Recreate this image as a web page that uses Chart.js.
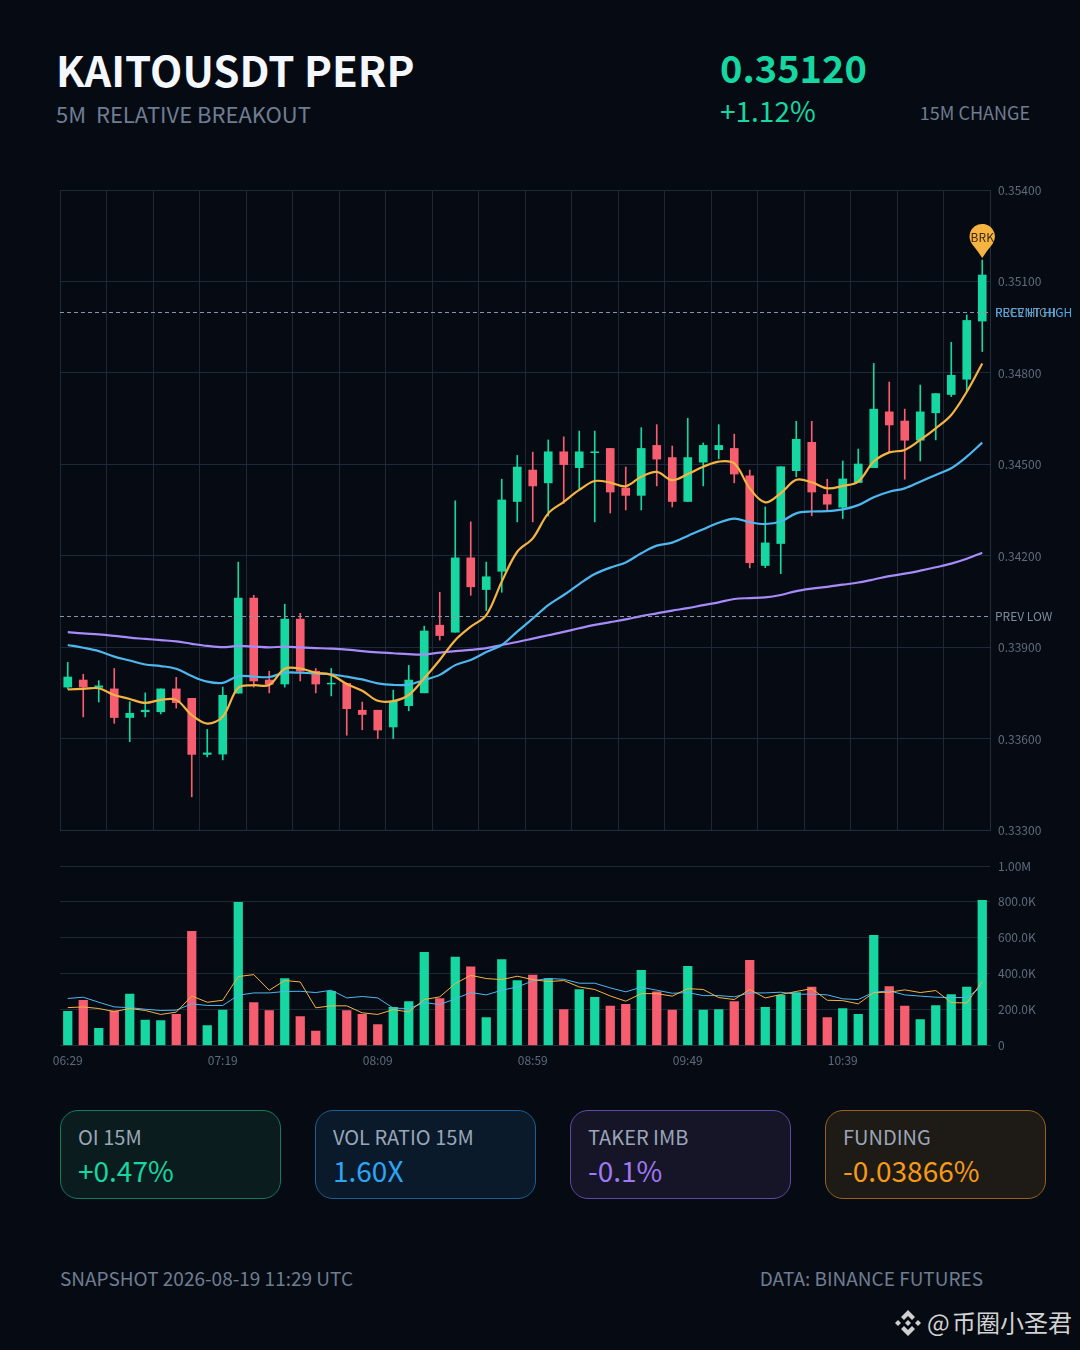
<!DOCTYPE html>
<html>
<head>
<meta charset="utf-8">
<title>KAITOUSDT PERP</title>
<script src="https://cdn.jsdelivr.net/npm/chart.js@4/dist/chart.umd.min.js"></script>
<style>
    * { box-sizing: border-box; }
    html, body { margin: 0; padding: 0; background: #060b13; }
    body { position: relative; width: 1080px; height: 1350px; overflow: hidden;
           font-family: "Noto Sans CJK SC", "Noto Sans", sans-serif; }
    canvas { position: absolute; left: 0; }
    .txt { position: absolute; white-space: pre; line-height: 1; }
    .card { position: absolute; top: 1110px; width: 221px; height: 89px; border-radius: 18px; border: 1px solid; }
    .card .lbl { position: absolute; left: 17px; top: 16px; font-size: 20px; line-height: 1; color: #9aa6b8; white-space: pre; }
    .card .val { position: absolute; left: 17px; top: 45px; font-size: 28px; line-height: 1; white-space: pre; }
</style>
</head>
<body>

<div class="txt" style="left:56px;top:47.5px;font-size:42px;font-weight:700;color:#f4f7fb">KAITOUSDT PERP</div>
<div class="txt" style="left:56px;top:102px;font-size:22px;color:#6f7d92">5M  RELATIVE BREAKOUT</div>
<div class="txt" style="left:720px;top:48px;font-size:38px;font-weight:700;color:#16d6a1">0.35120</div>
<div class="txt" style="left:720px;top:96px;font-size:28px;color:#16d6a1">+1.12%</div>
<div class="txt" style="right:50px;top:103px;font-size:18px;color:#6f7d92">15M CHANGE</div>

<canvas id="price-chart" width="1080" height="680" style="top:170px"></canvas>
<canvas id="volume-chart" width="1080" height="234" style="top:846px"></canvas>

<div class="card" style="left:60px;background:#0b1c1e;border-color:#147a5e">
    <div class="lbl">OI 15M</div><div class="val" style="color:#16d6a1">+0.47%</div>
</div>
<div class="card" style="left:315px;background:#0a1a2a;border-color:#1c5f92">
    <div class="lbl">VOL RATIO 15M</div><div class="val" style="color:#2ba6f5">1.60X</div>
</div>
<div class="card" style="left:570px;background:#151527;border-color:#5f4aa0">
    <div class="lbl">TAKER IMB</div><div class="val" style="color:#a078f5">-0.1%</div>
</div>
<div class="card" style="left:825px;background:#1e1a15;border-color:#96631c">
    <div class="lbl">FUNDING</div><div class="val" style="color:#f79a16">-0.03866%</div>
</div>

<div class="txt" style="left:60px;top:1268px;font-size:19px;color:#6f7d92">SNAPSHOT 2026-08-19 11:29 UTC</div>
<div class="txt" style="right:97px;top:1268px;font-size:19px;color:#6f7d92">DATA: BINANCE FUTURES</div>

<svg style="position:absolute;left:894px;top:1309px" width="28" height="28" viewBox="0 0 28 28">
    <g fill="#cfcfcf">
        <path d="M14 1 L21 8 L18 11 L14 7 L10 11 L7 8 Z"/>
        <path d="M14 27 L21 20 L18 17 L14 21 L10 17 L7 20 Z"/>
        <path d="M4 11 L7 14 L4 17 L1 14 Z"/>
        <path d="M24 11 L27 14 L24 17 L21 14 Z"/>
        <path d="M14 11 L17 14 L14 17 L11 14 Z"/>
    </g>
</svg>
<div class="txt" style="left:927px;top:1310px;font-size:24px;color:#d2d2d2">@</div>
<div class="txt" style="left:952px;top:1310px;font-size:24px;color:#d2d2d2">币圈小圣君</div>

<script>
'use strict';

// 5 minute candles, 06:29 to 11:24
const times = [
    '06:29','06:34','06:39','06:44','06:49','06:54','06:59','07:04','07:09','07:14',
    '07:19','07:24','07:29','07:34','07:39','07:44','07:49','07:54','07:59','08:04',
    '08:09','08:14','08:19','08:24','08:29','08:34','08:39','08:44','08:49','08:54',
    '08:59','09:04','09:09','09:14','09:19','09:24','09:29','09:34','09:39','09:44',
    '09:49','09:54','09:59','10:04','10:09','10:14','10:19','10:24','10:29','10:34',
    '10:39','10:44','10:49','10:54','10:59','11:04','11:09','11:14','11:19','11:24',
];

const opens = [
    0.33769,0.33792,0.33768,0.33763,0.33669,0.33688,0.33688,0.33763,0.33732,0.33548,
    0.33549,0.33749,0.34061,0.33792,0.33779,0.33992,0.33821,0.33779,0.33781,0.33693,
    0.33693,0.33638,0.33708,0.33750,0.33972,0.33949,0.34193,0.34089,0.34149,0.34378,
    0.34481,0.34439,0.34541,0.34489,0.34538,0.34552,0.34422,0.34398,0.34562,0.34522,
    0.34378,0.34507,0.34548,0.34552,0.34462,0.34168,0.34240,0.34479,0.34572,0.34401,
    0.34359,0.34440,0.34489,0.34672,0.34642,0.34579,0.34669,0.34729,0.34779,0.34970,
];
const closes = [
    0.33802,0.33769,0.33773,0.33669,0.33683,0.33693,0.33763,0.33718,0.33548,0.33553,
    0.33742,0.34061,0.33789,0.33778,0.33992,0.33821,0.33779,0.33782,0.33698,0.33679,
    0.33628,0.33722,0.33792,0.33953,0.33938,0.34193,0.34098,0.34131,0.34383,0.34491,
    0.34429,0.34541,0.34499,0.34541,0.34541,0.34409,0.34398,0.34552,0.34517,0.34378,
    0.34522,0.34562,0.34562,0.34468,0.34177,0.34242,0.34492,0.34582,0.34409,0.34369,
    0.34452,0.34501,0.34681,0.34629,0.34579,0.34672,0.34732,0.34792,0.34972,0.35121,
];
const highs = [
    0.33850,0.33811,0.33790,0.33830,0.33721,0.33750,0.33763,0.33801,0.33732,0.33630,
    0.33769,0.34179,0.34070,0.33821,0.34041,0.34011,0.33830,0.33830,0.33781,0.33720,
    0.33693,0.33759,0.33840,0.33969,0.34080,0.34380,0.34311,0.34179,0.34451,0.34529,
    0.34540,0.34580,0.34590,0.34609,0.34609,0.34552,0.34491,0.34620,0.34630,0.34560,
    0.34651,0.34570,0.34630,0.34599,0.34481,0.34360,0.34492,0.34641,0.34641,0.34451,
    0.34511,0.34550,0.34831,0.34770,0.34681,0.34760,0.34732,0.34900,0.34990,0.35170,
];
const lows = [
    0.33763,0.33671,0.33720,0.33650,0.33590,0.33671,0.33681,0.33700,0.33409,0.33540,
    0.33530,0.33749,0.33769,0.33750,0.33769,0.33789,0.33750,0.33740,0.33611,0.33629,
    0.33600,0.33600,0.33691,0.33750,0.33923,0.33949,0.34070,0.34020,0.34080,0.34311,
    0.34311,0.34330,0.34372,0.34418,0.34311,0.34340,0.34350,0.34350,0.34429,0.34360,
    0.34378,0.34429,0.34518,0.34439,0.34160,0.34161,0.34141,0.34459,0.34331,0.34350,
    0.34322,0.34440,0.34489,0.34540,0.34451,0.34511,0.34580,0.34722,0.34738,0.34870,
];

const maFast = [
    0.33761,0.33763,0.33765,0.33743,0.33730,0.33717,0.33727,0.33727,0.33677,0.33649,
    0.33672,0.33767,0.33775,0.33776,0.33829,0.33830,0.33816,0.33809,0.33779,0.33757,
    0.33724,0.33723,0.33743,0.33798,0.33858,0.33923,0.33967,0.34005,0.34115,0.34213,
    0.34257,0.34339,0.34377,0.34416,0.34445,0.34440,0.34428,0.34459,0.34475,0.34448,
    0.34468,0.34492,0.34509,0.34503,0.34421,0.34375,0.34405,0.34449,0.34441,0.34421,
    0.34429,0.34443,0.34509,0.34539,0.34547,0.34580,0.34618,0.34662,0.34738,0.34831,
];
const maMid = [
    0.33907,0.33898,0.33887,0.33869,0.33856,0.33843,0.33838,0.33829,0.33805,0.33787,
    0.33783,0.33805,0.33803,0.33802,0.33816,0.33816,0.33814,0.33811,0.33803,0.33794,
    0.33781,0.33776,0.33777,0.33792,0.33809,0.33841,0.33858,0.33884,0.33907,0.33951,
    0.33994,0.34038,0.34071,0.34107,0.34140,0.34161,0.34178,0.34208,0.34233,0.34243,
    0.34265,0.34287,0.34308,0.34322,0.34310,0.34304,0.34312,0.34339,0.34345,0.34346,
    0.34352,0.34366,0.34392,0.34410,0.34421,0.34443,0.34465,0.34487,0.34525,0.34571,
];
const maSlow = [
    0.33949,0.33945,0.33942,0.33937,0.33931,0.33927,0.33923,0.33919,0.33911,0.33904,
    0.33900,0.33904,0.33902,0.33899,0.33902,0.33899,0.33897,0.33895,0.33892,0.33887,
    0.33883,0.33880,0.33877,0.33876,0.33882,0.33887,0.33891,0.33897,0.33907,0.33917,
    0.33928,0.33939,0.33950,0.33962,0.33973,0.33982,0.33991,0.34002,0.34011,0.34020,
    0.34028,0.34038,0.34047,0.34058,0.34061,0.34063,0.34071,0.34084,0.34092,0.34098,
    0.34105,0.34112,0.34122,0.34133,0.34141,0.34151,0.34162,0.34174,0.34190,0.34210,
];

const volumes = [
    191000,252000,96000,193000,286000,141000,139000,174000,636000,111000,
    197000,798000,239000,195000,373000,161000,80000,302000,195000,173000,
    117000,213000,245000,519000,262000,493000,438000,156000,479000,362000,
    393000,373000,200000,312000,269000,219000,230000,419000,299000,197000,
    441000,197000,200000,245000,475000,213000,280000,295000,325000,156000,
    206000,174000,614000,328000,219000,145000,223000,284000,325000,809000,
];
const volMaFast = [
    211000,215000,206000,189000,206000,195000,173000,186000,276000,241000,
    252000,384000,395000,308000,362000,354000,210000,221000,221000,182000,
    173000,200000,187000,256000,271000,345000,391000,373000,367000,386000,
    367000,356000,362000,326000,312000,276000,247000,289000,289000,275000,
    317000,312000,267000,256000,312000,265000,284000,301000,317000,252000,
    250000,232000,295000,297000,310000,295000,306000,239000,237000,356000,
];
const volMaSlow = [
    262000,269000,241000,215000,211000,202000,195000,197000,232000,223000,
    223000,280000,293000,293000,301000,302000,295000,308000,265000,273000,
    265000,208000,206000,239000,228000,260000,295000,282000,308000,326000,
    360000,373000,369000,347000,347000,321000,299000,325000,308000,291000,
    295000,278000,278000,271000,293000,293000,297000,286000,286000,282000,
    260000,256000,297000,304000,282000,275000,269000,267000,267000,330000,
];

const prevHigh = 0.34998;
const prevLow = 0.34002;

const priceTicks = { min: 0.333, max: 0.354, step: 0.003 };
const volumeTicks = { min: 0, max: 1000000, step: 200000 };

const UP = '#16d6a1';
const DOWN = '#f65d6e';
const ORANGE = '#f5b342';
const BLUE = '#4db8f0';
const PURPLE = '#a78bfa';
const GRID = '#1e2836';
const TICK = '#5f6b7b';
const FONT = '"Noto Sans CJK SC", "Noto Sans", sans-serif';

Chart.defaults.font.family = FONT;
Chart.defaults.font.size = 12;
Chart.defaults.color = TICK;

const candleColors = opens.map((o, i) => (closes[i] >= o ? UP : DOWN));

function maLine(label, data, color, width, tension, order) {
    return { type: 'line', label, data, borderColor: color, borderWidth: width, tension, order,
             pointRadius: 0, fill: false };
}

// dashed levels, their labels and the breakout pin
const overlayPlugin = {
    id: 'overlay',
    afterDatasetsDraw(chart) {
        const { ctx, chartArea, scales } = chart;
        const levels = [
            { value: prevHigh, text: 'PREV HIGH', color: '#7f8a9c' },
            { value: prevHigh, text: 'RECENT HIGH', color: '#4fa8e0' },
            { value: prevLow, text: 'PREV LOW', color: '#7f8a9c' },
        ];
        ctx.save();
        levels.forEach(l => {
            const y = Math.floor(scales.y.getPixelForValue(l.value)) + 0.5;
            ctx.strokeStyle = '#8b93ac';
            ctx.lineWidth = 1;
            ctx.setLineDash([4, 3]);
            ctx.beginPath();
            ctx.moveTo(chartArea.left, y);
            ctx.lineTo(chartArea.right, y);
            ctx.stroke();
            ctx.setLineDash([]);
            ctx.fillStyle = l.color;
            ctx.font = '12px ' + FONT;
            ctx.textAlign = 'left';
            ctx.textBaseline = 'middle';
            ctx.fillText(l.text, chartArea.right + 5, y);
        });

        const last = times.length - 1;
        const px = scales.x.getPixelForValue(last);
        const tip = scales.y.getPixelForValue(highs[last]) - 2;
        const cy = tip - 21.5;
        ctx.fillStyle = ORANGE;
        ctx.beginPath();
        ctx.arc(px, cy, 12.7, Math.PI * 0.8, Math.PI * 0.2);
        ctx.quadraticCurveTo(px + 4, cy + 15, px, tip);
        ctx.quadraticCurveTo(px - 4, cy + 15, px - 12.7 * Math.cos(Math.PI * 0.2), cy + 12.7 * Math.sin(Math.PI * 0.2));
        ctx.fill();
        ctx.fillStyle = '#3d2c10';
        ctx.font = '12px ' + FONT;
        ctx.textAlign = 'center';
        ctx.fillText('BRK', px, cy + 1);
        ctx.restore();
    },
};

new Chart(document.getElementById('price-chart'), {
    type: 'bar',
    data: {
        labels: times,
        datasets: [
            maLine('MA fast', maFast, ORANGE, 2.2, 0.35, 1),
            maLine('MA mid', maMid, BLUE, 2.2, 0.35, 2),
            maLine('MA slow', maSlow, PURPLE, 2.2, 0.35, 3),
            { label: 'Body', data: opens.map((o, i) => [o, closes[i]]), backgroundColor: candleColors,
              barThickness: 8, grouped: false, order: 4 },
            { label: 'Wick', data: lows.map((l, i) => [l, highs[i]]), backgroundColor: candleColors,
              barThickness: 1, grouped: false, order: 5 },
        ],
    },
    plugins: [overlayPlugin],
    options: {
        responsive: false,
        animation: false,
        events: [],
        layout: { padding: { left: 60, top: 20, bottom: 20, right: 0 } },
        plugins: { legend: { display: false }, tooltip: { enabled: false } },
        scales: {
            x: {
                type: 'category',
                offset: true,
                afterFit: s => { s.height = 0; },
                border: { display: true, color: '#232e3d' },
                grid: {
                    offset: true,
                    drawTicks: false,
                    color: c => (c.index === undefined || c.index % 3 === 0 ? GRID : 'rgba(0,0,0,0)'),
                },
                ticks: { display: false, autoSkip: false },
            },
            y: {
                position: 'right',
                min: priceTicks.min,
                max: priceTicks.max,
                afterFit: s => { s.width = 90; },
                border: { display: true, color: '#232e3d' },
                grid: { color: GRID, drawTicks: false },
                ticks: { stepSize: priceTicks.step, padding: 8, color: TICK, labelOffset: 0.5, callback: v => v.toFixed(5) },
            },
        },
    },
});

new Chart(document.getElementById('volume-chart'), {
    type: 'bar',
    data: {
        labels: times,
        datasets: [
            maLine('Vol MA fast', volMaFast, ORANGE, 1, 0, 1),
            maLine('Vol MA slow', volMaSlow, BLUE, 1, 0, 2),
            { label: 'Volume', data: volumes, backgroundColor: candleColors, barThickness: 8.6, order: 3 },
        ],
    },
    options: {
        responsive: false,
        animation: false,
        events: [],
        layout: { padding: { left: 60, top: 20, bottom: 0, right: 0 } },
        plugins: { legend: { display: false }, tooltip: { enabled: false } },
        scales: {
            x: {
                type: 'category',
                offset: true,
                afterFit: s => { s.height = 34.5; },
                border: { display: true, color: '#232e3d' },
                grid: { display: false },
                ticks: {
                    autoSkip: false,
                    maxRotation: 0,
                    padding: 0,
                    color: TICK,
                    callback(v, i) { return i % 10 === 0 ? times[i] : ''; },
                },
            },
            y: {
                position: 'right',
                min: volumeTicks.min,
                max: volumeTicks.max,
                afterFit: s => { s.width = 90; },
                border: { display: false },
                grid: { color: GRID, drawTicks: false },
                ticks: {
                    stepSize: volumeTicks.step,
                    padding: 8,
                    color: TICK,
                    callback(v) {
                        if (v === 0) return '0';
                        return v >= 1000000 ? (v / 1000000).toFixed(2) + 'M' : (v / 1000).toFixed(1) + 'K';
                    },
                },
            },
        },
    },
});
</script>
</body>
</html>
